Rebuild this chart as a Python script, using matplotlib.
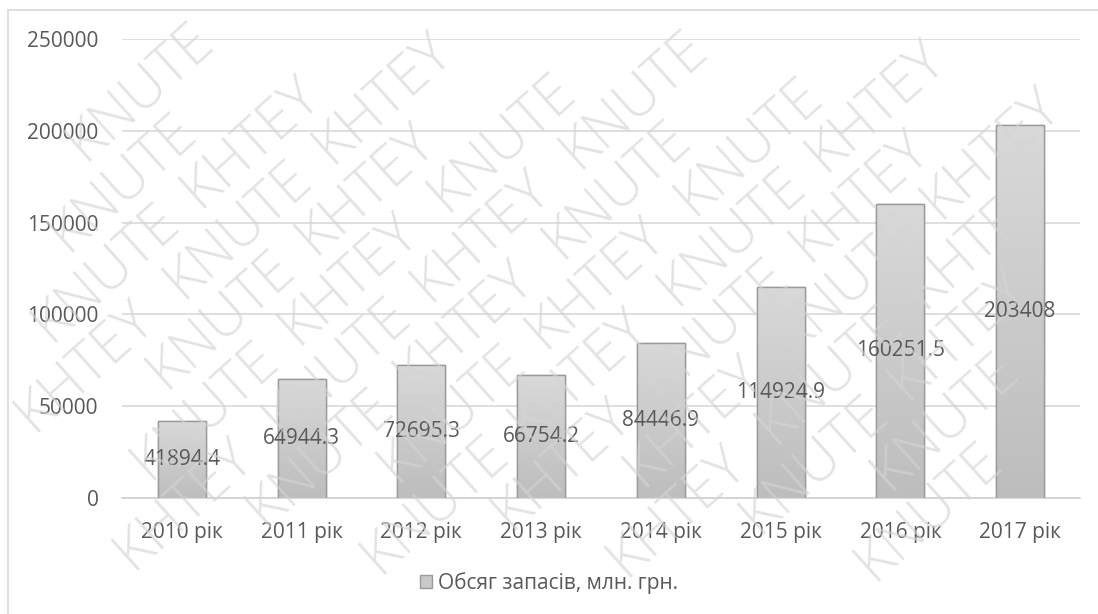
import numpy as np
import matplotlib.pyplot as plt
from matplotlib.colors import LinearSegmentedColormap
from matplotlib.lines import Line2D
from matplotlib.patches import Patch

# --- Дані ---
roky = ["2010 рік", "2011 рік", "2012 рік", "2013 рік",
        "2014 рік", "2015 рік", "2016 рік", "2017 рік"]
obsyag = [41894.4, 64944.3, 72695.3, 66754.2, 84446.9, 114924.9, 160251.5, 203408]
pidpysy = ["41894.4", "64944.3", "72695.3", "66754.2",
           "84446.9", "114924.9", "160251.5", "203408"]
y_ticks = [0, 50000, 100000, 150000, 200000, 250000]
legenda = "Обсяг запасів, млн. грн."
slova_znaku = ["KHTEY", "KNUTE"]

plt.rcParams['font.family'] = ['Open Sans', 'DejaVu Sans']
siryi = "#595959"
W, H = 1098, 614

fig = plt.figure(figsize=(W / 100, H / 100), dpi=100)
ax = fig.add_axes([122 / W, 1 - 498 / H, (1080 - 122) / W, (498 - 39) / H])

x = np.arange(len(roky))
bars = ax.bar(x, obsyag, width=0.4, color="#cccccc", edgecolor="#9a9a9a",
              linewidth=1.0, zorder=2)

# градієнт на стовпчиках
cmap = LinearSegmentedColormap.from_list("g", ["#bdbdbd", "#d9d9d9"])
grad = np.linspace(0, 1, 256).reshape(-1, 1)
for b in bars:
    x0, y0 = b.get_x(), b.get_y()
    w, h = b.get_width(), b.get_height()
    im = ax.imshow(grad, cmap=cmap, origin="lower", aspect="auto",
                   extent=[x0, x0 + w, y0, y0 + h], zorder=2.5)
    im.set_clip_path(b)
    ax.bar(x0 + w / 2, h, width=w, fill=False, edgecolor="#9a9a9a",
           linewidth=1.0, zorder=3)

for xi, v, t in zip(x, obsyag, pidpysy):
    ax.text(xi, v / 2, t, ha="center", va="center", fontsize=15,
            color=siryi, zorder=4)

ax.set_xlim(-0.5, len(roky) - 0.5)
ax.set_ylim(0, 250000)
ax.set_yticks(y_ticks)
ax.set_yticklabels([str(v) for v in y_ticks])
ax.set_xticks(x)
ax.set_xticklabels(roky)
ax.tick_params(axis="both", length=0, labelsize=15, labelcolor=siryi)
ax.tick_params(axis="y", pad=17)
ax.tick_params(axis="x", pad=17)
ax.grid(axis="y", color="#d9d9d9", linewidth=1.2, zorder=0)
ax.set_axisbelow(True)
for s in ["top", "right", "left"]:
    ax.spines[s].set_visible(False)
ax.spines["bottom"].set_color("#d0d0d0")
ax.spines["bottom"].set_linewidth(1.2)

handle = Patch(facecolor="#c8c8c8", edgecolor="#9a9a9a")
fig.legend([handle], [legenda], loc="center", bbox_to_anchor=(0.5, 1 - 583 / H),
           frameon=False, fontsize=15, labelcolor=siryi,
           handlelength=0.6, handleheight=0.6, handletextpad=0.3)

# рамка діаграми
fig.add_artist(Line2D([8 / W, 8 / W], [0, 1 - 10 / H],
                      transform=fig.transFigure, color="#d9d9d9", lw=1.2))
fig.add_artist(Line2D([8 / W, 1], [1 - 10 / H, 1 - 10 / H],
                      transform=fig.transFigure, color="#d9d9d9", lw=1.2))

# водяний знак (лише слова, що повністю вміщаються)
kut = np.radians(42)
u = np.array([np.cos(kut), np.sin(kut)])
n = np.array([-np.sin(kut), np.cos(kut)])
krok = 200
renderer = fig.canvas.get_renderer()
for r in range(-25, 25):
    for k in range(-8, 14):
        p = r * 56 * n + (k * krok + (r * 73) % krok) * u
        if not (-80 < p[0] < W + 80 and -80 < p[1] < H + 80):
            continue
        t = fig.text(p[0] / W, p[1] / H, slova_znaku[k % 2], fontsize=41,
                     fontweight="light", rotation=42, rotation_mode="anchor",
                     color="#d4d4d4", alpha=0.65, ha="left", va="baseline",
                     zorder=10)
        bb = t.get_window_extent(renderer)
        if bb.x0 < 1 or bb.y0 < 1 or bb.x1 > W - 1 or bb.y1 > H - 1:
            t.remove()

fig.savefig("out.png", dpi=100)
